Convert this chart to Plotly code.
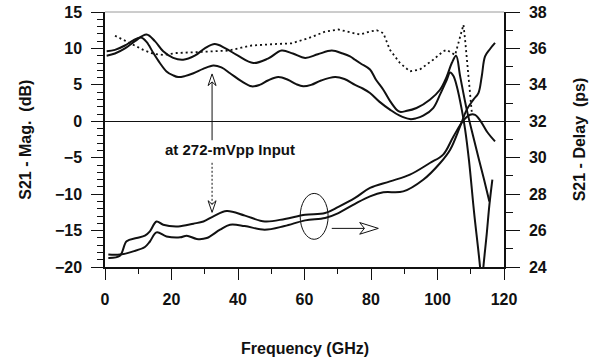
import plotly.graph_objects as go

# ---------------- data ----------------
# Measured S21 magnitude, curve A (dB)
magA_f = [0.5, 3, 6, 9, 12.5, 15, 17.5, 20.5, 23.5, 27, 30, 33, 36.1, 40, 44.6, 49, 53.1,
          56.5, 60.2, 64, 68.2, 71.5, 73.7, 75.2, 77, 79.7, 81.5, 83.7, 85.7, 87.7, 88.7,
          90.5, 93.7, 97.7, 100.75, 102.8, 104.3, 105.6, 106.8, 108.8, 110.8, 112.5, 114, 115.6]
magA_db = [9.0, 9.3, 10.0, 11.0, 11.9, 11.0, 9.6, 8.7, 8.45, 9.0, 10.0, 10.6, 10.05, 9.0, 8.0, 8.6, 9.7,
           9.3, 8.7, 9.2, 9.7, 9.3, 8.9, 8.45, 7.9, 7.1, 5.7, 4.33, 2.8, 1.59, 1.3,
           1.4, 1.82, 2.96, 4.33, 6.16, 8.0, 9.0, 6.2, 1.6, -2.2, -5.3, -8.0, -11.0]

# Measured S21 magnitude, curve B (dB)
magB_f = [0.5, 3, 6, 8.5, 10.8, 12.5, 14.5, 16.5, 18.5, 20.5, 22, 24, 26.6, 29.5, 32.6, 35, 37.6,
          41, 44.1, 46.5, 49, 52.1, 55, 57.5, 59.6, 62, 65, 69.2, 72, 75.2, 77.5, 79.7, 82.5,
          85.7, 88.5, 91.7, 93.5, 95.7, 98.7, 100.75, 102.8, 103.8, 104.8, 105.8, 107.3, 108.3,
          109.5, 111, 112.8, 113.3, 113.8, 114.8, 115.6, 116.5]
magB_db = [9.6, 9.8, 10.4, 11.1, 11.5, 10.9, 9.4, 8.0, 6.85, 6.3, 6.07, 6.2, 6.6, 7.2, 7.67, 7.4, 6.6,
           5.5, 4.8, 5.0, 5.6, 6.07, 5.7, 5.1, 4.8, 5.0, 5.6, 6.07, 5.8, 5.0, 4.5, 3.88, 2.7,
           1.6, 0.8, 0.3, 0.4, 0.77, 1.82, 3.65, 5.7, 6.7, 6.2, 4.8, 1.6, -1.1,
           -5.5, -12.5, -20.0, -23.0, -20.0, -15.5, -11.5, -8.0]

# Dotted S21 magnitude (dB)
magS_f = [3, 5.5, 8.5, 11.5, 14.5, 17.5, 21.6, 26.6, 31.6, 37.1, 41, 44.1, 51.1, 56.1, 61.1, 66.2,
          70.2, 73.7, 76.7, 79.5, 81.7, 83.7, 85.7, 88.7, 91.7, 94.7, 98.7, 101.7, 102.8, 105.3,
          107.8, 108.3, 109.3, 109.8, 110.3]
magS_db = [11.75, 11.2, 10.5, 9.8, 9.27, 9.1, 9.37, 9.5, 9.6, 9.7, 10.1, 10.4, 10.6, 10.7, 11.4, 12.3,
           12.6, 12.2, 11.9, 12.3, 12.5, 12.1, 9.8, 8.0, 6.85, 7.1, 8.45, 9.6, 9.8, 9.1,
           13.25, 11.2, 6.2, 3.4, 1.3]

# Group delay, curve C (ps)
delC_f = [1, 4.5, 6.5, 9.5, 12, 13.5, 15.5, 17.5, 22, 26.6, 29.6, 32.6, 36.6, 42.1, 48.1, 54.1,
          60.2, 66.2, 70.2, 75.2, 79.7, 85.7, 91.7, 97.7, 101.7, 104.8, 107.8, 109.8, 111.3,
          113, 115, 117.3]
delC_ps = [24.5, 24.62, 25.41, 25.59, 25.72, 25.96, 26.5, 26.32, 26.23, 26.38, 26.5, 26.78, 27.07,
           26.82, 26.5, 26.64, 26.87, 26.96, 27.3, 27.79, 28.34, 28.7, 29.07, 29.71, 30.17, 31.17,
           32.05, 32.36, 32.35, 32.0, 31.4, 30.9]

# Group delay, curve D (ps)
delD_f = [1, 4.5, 8.5, 12, 13.5, 15.5, 18.5, 22.6, 24.6, 27.6, 30.6, 34.6, 37.6, 42, 48, 54, 60.2,
          66.2, 70.2, 75.2, 79.7, 83.7, 89.7, 95.7, 100.8, 103.8, 106.8, 108.8, 110.8, 112.3,
          113.3, 114.3, 115.8, 117.3]
delD_ps = [24.68, 24.68, 24.86, 25.1, 25.4, 25.9, 25.68, 25.63, 25.72, 25.54, 25.59, 26.05, 26.32,
           26.25, 26.05, 26.25, 26.56, 26.69, 26.96, 27.47, 27.88, 28.1, 28.15, 28.79, 29.71, 30.44,
           31.72, 32.64, 33.19, 33.55, 34.46, 35.56, 35.97, 36.3]

x_ticks = [0, 20, 40, 60, 80, 100, 120]
y_ticks = [-20, -15, -10, -5, 0, 5, 10, 15]
y2_ticks = [24, 26, 28, 30, 32, 34, 36, 38]

# ---------------- annotation geometry (axis units) ----------------
ARROW_X = 32.2
UP_TAIL, UP_TIP = -2.6, 6.5
DN_TAIL, DN_TIP = -5.7, -12.5
HEAD_LEN, HEAD_HALF, HEAD_NOTCH = 1.6, 1.2, 0.5
ELL = dict(x0=58.7, x1=67.1, y0=-16.2, y1=-9.9)
HA_Y, HA_X0, HA_TIP, HA_BACK, HA_NOTCH, HA_HALF = -14.7, 68.2, 82.2, 76.6, 78.0, 0.8

FONT = "Arial, Liberation Sans, sans-serif"
BLACK = "#111111"

fig = go.Figure()
line_solid = dict(color=BLACK, width=2.0, shape="spline", smoothing=1.0)
fig.add_trace(go.Scatter(x=magA_f, y=magA_db, mode="lines", line=line_solid, yaxis="y"))
fig.add_trace(go.Scatter(x=magB_f, y=magB_db, mode="lines", line=line_solid, yaxis="y"))
fig.add_trace(go.Scatter(x=magS_f, y=magS_db, mode="lines",
                         line=dict(color=BLACK, width=1.8, dash="2px,3px"), yaxis="y"))
fig.add_trace(go.Scatter(x=delC_f, y=delC_ps, mode="lines", line=line_solid, yaxis="y2"))
fig.add_trace(go.Scatter(x=delD_f, y=delD_ps, mode="lines", line=line_solid, yaxis="y2"))

shapes = []
# top frame line (faint)
shapes.append(dict(type="line", xref="paper", yref="paper", x0=0, x1=1, y0=1, y1=1,
                   line=dict(color="#9a9a9a", width=1)))
# up arrow
shapes.append(dict(type="line", x0=ARROW_X, x1=ARROW_X, y0=UP_TAIL, y1=UP_TIP - HEAD_LEN + HEAD_NOTCH,
                   line=dict(color=BLACK, width=1)))
shapes.append(dict(type="path",
                   path=f"M {ARROW_X-HEAD_HALF},{UP_TIP-HEAD_LEN} L {ARROW_X},{UP_TIP} "
                        f"L {ARROW_X+HEAD_HALF},{UP_TIP-HEAD_LEN} L {ARROW_X},{UP_TIP-HEAD_LEN+HEAD_NOTCH} Z",
                   line=dict(color=BLACK, width=1)))
# down arrow
shapes.append(dict(type="line", x0=ARROW_X, x1=ARROW_X, y0=DN_TAIL, y1=DN_TIP + HEAD_LEN - HEAD_NOTCH,
                   line=dict(color=BLACK, width=1, dash="2px,2px")))
shapes.append(dict(type="path",
                   path=f"M {ARROW_X-HEAD_HALF},{DN_TIP+HEAD_LEN} L {ARROW_X},{DN_TIP} "
                        f"L {ARROW_X+HEAD_HALF},{DN_TIP+HEAD_LEN} L {ARROW_X},{DN_TIP+HEAD_LEN-HEAD_NOTCH} Z",
                   line=dict(color=BLACK, width=1)))
# ellipse
shapes.append(dict(type="circle", **ELL, line=dict(color=BLACK, width=1)))
# horizontal arrow
shapes.append(dict(type="line", x0=HA_X0, x1=HA_NOTCH, y0=HA_Y, y1=HA_Y, line=dict(color=BLACK, width=1)))
shapes.append(dict(type="path",
                   path=f"M {HA_BACK},{HA_Y+HA_HALF} L {HA_TIP},{HA_Y} L {HA_BACK},{HA_Y-HA_HALF} "
                        f"L {HA_NOTCH},{HA_Y} Z",
                   line=dict(color=BLACK, width=1)))
for s in shapes:
    if "xref" not in s:
        s["xref"] = "x"
        s["yref"] = "y"

annotations = [
    dict(text="at 272-mVpp Input", x=37.6, y=-3.9, xref="x", yref="y", showarrow=False,
         font=dict(family=FONT, size=15, color=BLACK, weight="bold")),
    dict(text="Frequency (GHz)", x=0.5, y=-0.318, xref="paper", yref="paper", showarrow=False,
         yanchor="middle", font=dict(family=FONT, size=16, color=BLACK, weight="bold")),
    dict(text="S21 - Mag.  (dB)", x=-0.2, y=0.5, xref="paper", yref="paper", showarrow=False,
         textangle=-90, xanchor="center", yanchor="middle",
         font=dict(family=FONT, size=16, color=BLACK, weight="bold")),
    dict(text="S21 - Delay  (ps)", x=1.19, y=0.5, xref="paper", yref="paper", showarrow=False,
         textangle=-90, xanchor="center", yanchor="middle",
         font=dict(family=FONT, size=16, color=BLACK, weight="bold")),
]

tickfont = dict(family=FONT, size=16, color=BLACK, weight="bold")
fig.update_layout(
    width=595, height=358,
    margin=dict(l=105, r=91, t=12, b=91, autoexpand=False),
    paper_bgcolor="white", plot_bgcolor="white",
    showlegend=False,
    shapes=shapes,
    annotations=annotations,
    xaxis=dict(range=[0, 120], tickvals=x_ticks, ticks="outside", ticklen=11, tickwidth=1.3,
               tickcolor=BLACK, showline=True, linecolor=BLACK, linewidth=1.5, showgrid=False,
               zeroline=False, tickfont=tickfont, ticklabelstandoff=6, automargin=False,
               minor=dict(dtick=10, ticks="outside", ticklen=5, tickwidth=1.3, tickcolor=BLACK,
                          showgrid=False)),
    yaxis=dict(range=[-20, 15], tickvals=y_ticks, ticks="outside", ticklen=12, tickwidth=1.3,
               tickcolor=BLACK, showline=True, linecolor=BLACK, linewidth=1.5, showgrid=False,
               zeroline=True, zerolinecolor=BLACK, zerolinewidth=1.3, tickfont=tickfont,
               ticklabelstandoff=6, automargin=False,
               minor=dict(dtick=1, ticks="outside", ticklen=6, tickwidth=1.1, tickcolor=BLACK,
                          showgrid=False)),
    yaxis2=dict(range=[24, 38], tickvals=y2_ticks, ticks="outside", ticklen=14, tickwidth=1.3,
                tickcolor=BLACK, showline=True, linecolor=BLACK, linewidth=1.5, showgrid=False,
                zeroline=False, overlaying="y", side="right", tickfont=tickfont,
                ticklabelstandoff=6, automargin=False,
                minor=dict(dtick=1, ticks="outside", ticklen=7, tickwidth=1.1, tickcolor=BLACK,
                           showgrid=False)),
)

fig.write_html("out.html")
